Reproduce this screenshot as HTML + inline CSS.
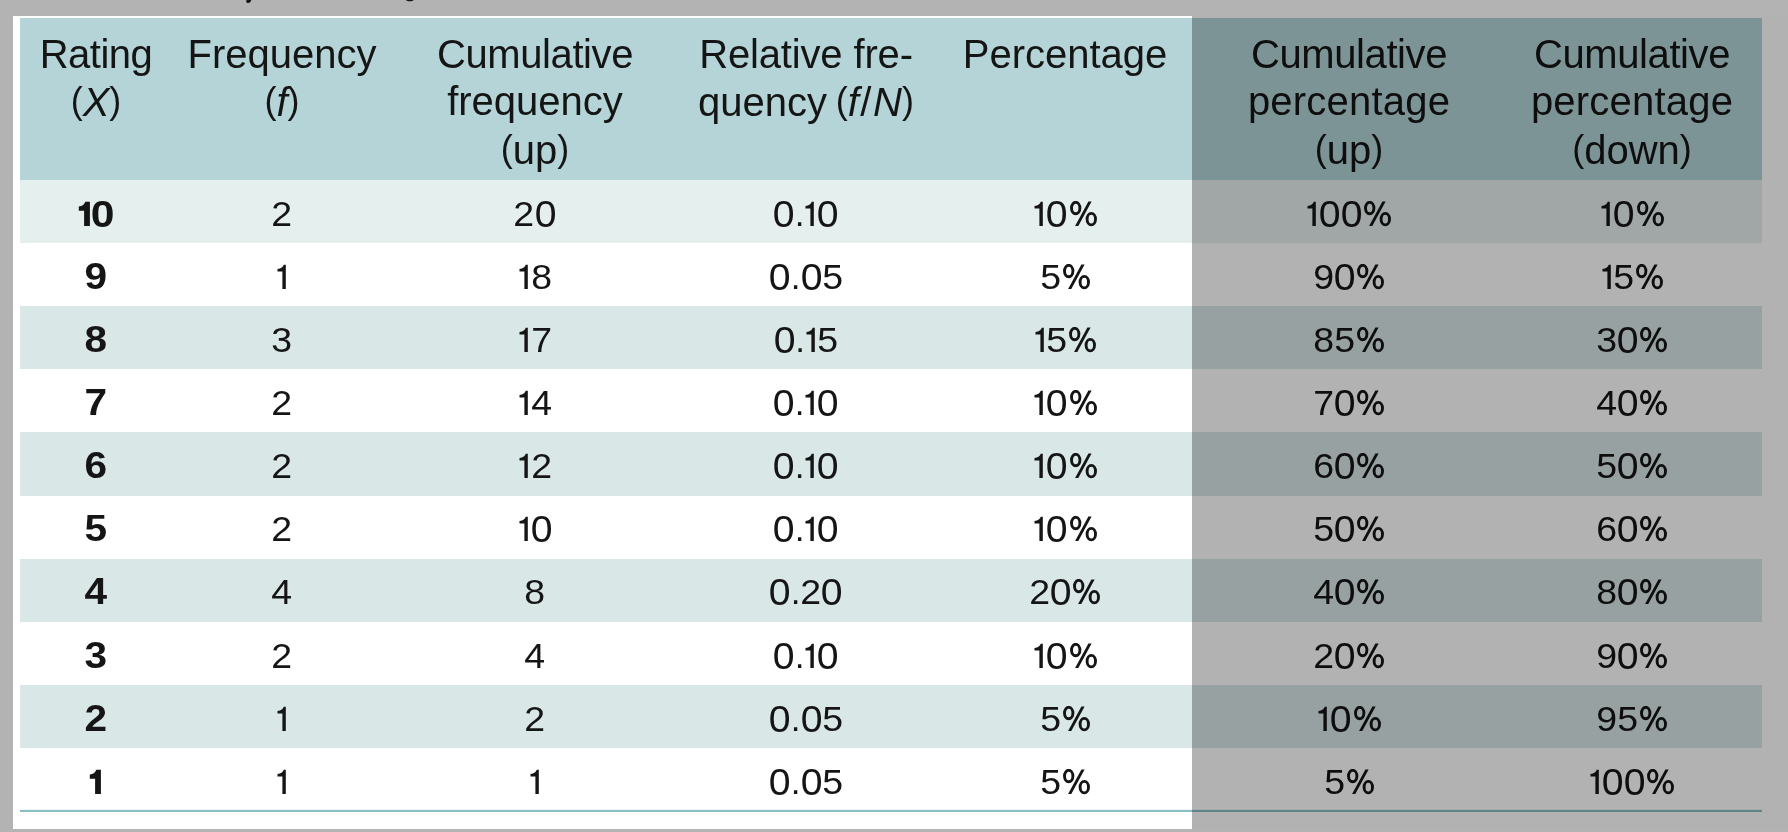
<!DOCTYPE html>
<html><head><meta charset="utf-8">
<style>
html,body{margin:0;padding:0;}
body{width:1788px;height:832px;overflow:hidden;background:#b3b3b3;position:relative;font-family:"Liberation Sans",sans-serif;color:#151515;}
.pg{position:absolute;left:13px;top:16px;width:1775px;height:813px;background:#fff;}
.r{position:absolute;left:20px;width:1742px;}
.t{position:absolute;width:300px;text-align:center;white-space:nowrap;will-change:transform;}
.hl{font-size:40.00px;line-height:40.00px;}
.p{font-size:36px;vertical-align:2.6px;}
.b{font-size:35.00px;line-height:35.00px;}
.ov{position:absolute;left:1192px;top:16px;width:596px;height:813px;background:rgba(0,0,0,0.3);}
.ds{position:absolute;background:#151515;}
.one{display:inline-block;position:relative;width:13.00px;height:25px;}
.one svg{position:absolute;left:0;top:0;}
.db{display:inline-block;transform:scale(1.16,1.03);margin:0 1.4px;}
.zb{display:inline-block;transform:translateY(0.6px) scale(1.22,1.03);margin:0 2px;}
.oneb{display:inline-block;position:relative;width:13.5px;height:25px;}
.oneb svg{position:absolute;left:0;top:0;}
.dg{display:inline-block;transform:scaleX(1.07);margin:0 0.55px;}
.z{display:inline-block;transform:translateY(0.6px) scale(1.12,1.03);margin:0 1.1px;}
.pc{display:inline-block;position:relative;width:29.00px;height:25px;}
.pc svg{position:absolute;left:1.80px;top:0;}
</style></head><body>
<div class="pg"></div>

<div class="r" style="top:18px;height:162.0px;background:#b4d4d7"></div>
<div class="r" style="top:180.00px;height:63.60px;background:#e5efee"></div>
<div class="r" style="top:243.10px;height:63.60px;background:#ffffff"></div>
<div class="r" style="top:306.20px;height:63.60px;background:#d9e7e7"></div>
<div class="r" style="top:369.30px;height:63.60px;background:#ffffff"></div>
<div class="r" style="top:432.40px;height:63.60px;background:#d9e7e7"></div>
<div class="r" style="top:495.50px;height:63.60px;background:#ffffff"></div>
<div class="r" style="top:558.60px;height:63.60px;background:#d9e7e7"></div>
<div class="r" style="top:621.70px;height:63.60px;background:#ffffff"></div>
<div class="r" style="top:684.80px;height:63.60px;background:#d9e7e7"></div>
<div class="r" style="top:747.90px;height:63.60px;background:#ffffff"></div>
<div class="r" style="top:809px;height:1px;background:#eef5f6"></div>
<div class="r" style="top:810px;height:2px;background:#8bbdc5"></div>
<div class="t hl" style="left:-54.30px;top:34.14px"><span style="letter-spacing:-0.5px">Rating</span></div>
<div class="t hl" style="left:-54.30px;top:81.14px"><span class=p>(</span><i>X</i><span class=p>)</span></div>
<div class="t hl" style="left:132.00px;top:34.14px">Frequency</div>
<div class="t hl" style="left:132.00px;top:81.14px"><span class=p>(</span><i>f</i><span class=p>)</span></div>
<div class="t hl" style="left:385.20px;top:34.14px"><span style="letter-spacing:-0.4px">Cumulative</span></div>
<div class="t hl" style="left:385.20px;top:81.14px">frequency</div>
<div class="t hl" style="left:385.20px;top:129.14px"><span class=p>(</span>up<span class=p>)</span></div>
<div class="t hl" style="left:656.00px;top:34.14px"><span style="letter-spacing:-0.15px">Relative fre-</span></div>
<div class="t hl" style="left:656.00px;top:81.14px">quency<span style="margin-left:-2.5px"> </span><span class=p>(</span><i>f</i><span style="margin:0 1.6px">/</span><i>N</i><span class=p>)</span></div>
<div class="t hl" style="left:915.20px;top:34.14px">Percentage</div>
<div class="t hl" style="left:1198.80px;top:34.14px"><span style="letter-spacing:-0.4px">Cumulative</span></div>
<div class="t hl" style="left:1198.80px;top:81.14px"><span style="letter-spacing:0.2px">percentage</span></div>
<div class="t hl" style="left:1198.80px;top:129.14px"><span class=p>(</span>up<span class=p>)</span></div>
<div class="t hl" style="left:1481.50px;top:34.14px"><span style="letter-spacing:-0.4px">Cumulative</span></div>
<div class="t hl" style="left:1481.50px;top:81.14px"><span style="letter-spacing:0.2px">percentage</span></div>
<div class="t hl" style="left:1481.50px;top:129.14px"><span class=p>(</span>down<span class=p>)</span></div>
<div class="t b" style="left:-54.30px;top:195.87px;font-weight:bold;"><span class="oneb"><svg width="14" height="26" viewBox="0 0 14 26"><path d="M11.9 0.8 L7.2 0.8 C6.5 3.2 4.5 5.2 0.8 5.4 L0.8 9.7 L6.1 9.7 L6.1 25 L11.9 25 Z" fill="#151515"/></svg></span><span class="zb">0</span></div>
<div class="t b" style="left:132.00px;top:195.87px;"><span class="dg">2</span></div>
<div class="t b" style="left:385.20px;top:195.87px;"><span class="dg">2</span><span class="z">0</span></div>
<div class="t b" style="left:656.00px;top:195.87px;"><span class="z">0</span>.<span class="one"><svg width="14" height="26" viewBox="0 0 14 26"><path d="M9.8 0.7 L7.7 0.7 C7.2 2.6 5.2 4.6 1.5 5.0 L1.5 7.6 L6.4 7.6 L6.4 25 L9.8 25 Z" fill="#151515"/></svg></span><span class="z">0</span></div>
<div class="t b" style="left:915.20px;top:195.87px;"><span class="one"><svg width="14" height="26" viewBox="0 0 14 26"><path d="M9.8 0.7 L7.7 0.7 C7.2 2.6 5.2 4.6 1.5 5.0 L1.5 7.6 L6.4 7.6 L6.4 25 L9.8 25 Z" fill="#151515"/></svg></span><span class="z">0</span><span class="pc"><svg width="30" height="26" viewBox="0 0 30 26"><g fill="none" stroke="#151515" stroke-width="2.9"><ellipse cx="5.7" cy="7.05" rx="4.2" ry="5.75"/><ellipse cx="21.3" cy="18.15" rx="4.2" ry="5.75"/></g><path d="M18.4 0.6 L21.6 0.6 L8.3 25 L5.1 25 Z" fill="#151515"/></svg></span></div>
<div class="t b" style="left:1198.80px;top:195.87px;"><span class="one"><svg width="14" height="26" viewBox="0 0 14 26"><path d="M9.8 0.7 L7.7 0.7 C7.2 2.6 5.2 4.6 1.5 5.0 L1.5 7.6 L6.4 7.6 L6.4 25 L9.8 25 Z" fill="#151515"/></svg></span><span class="z">0</span><span class="z">0</span><span class="pc"><svg width="30" height="26" viewBox="0 0 30 26"><g fill="none" stroke="#151515" stroke-width="2.9"><ellipse cx="5.7" cy="7.05" rx="4.2" ry="5.75"/><ellipse cx="21.3" cy="18.15" rx="4.2" ry="5.75"/></g><path d="M18.4 0.6 L21.6 0.6 L8.3 25 L5.1 25 Z" fill="#151515"/></svg></span></div>
<div class="t b" style="left:1481.50px;top:195.87px;"><span class="one"><svg width="14" height="26" viewBox="0 0 14 26"><path d="M9.8 0.7 L7.7 0.7 C7.2 2.6 5.2 4.6 1.5 5.0 L1.5 7.6 L6.4 7.6 L6.4 25 L9.8 25 Z" fill="#151515"/></svg></span><span class="z">0</span><span class="pc"><svg width="30" height="26" viewBox="0 0 30 26"><g fill="none" stroke="#151515" stroke-width="2.9"><ellipse cx="5.7" cy="7.05" rx="4.2" ry="5.75"/><ellipse cx="21.3" cy="18.15" rx="4.2" ry="5.75"/></g><path d="M18.4 0.6 L21.6 0.6 L8.3 25 L5.1 25 Z" fill="#151515"/></svg></span></div>
<div class="t b" style="left:-54.30px;top:258.97px;font-weight:bold;"><span class="db">9</span></div>
<div class="t b" style="left:132.00px;top:258.97px;"><span class="one"><svg width="14" height="26" viewBox="0 0 14 26"><path d="M9.8 0.7 L7.7 0.7 C7.2 2.6 5.2 4.6 1.5 5.0 L1.5 7.6 L6.4 7.6 L6.4 25 L9.8 25 Z" fill="#151515"/></svg></span></div>
<div class="t b" style="left:385.20px;top:258.97px;"><span class="one"><svg width="14" height="26" viewBox="0 0 14 26"><path d="M9.8 0.7 L7.7 0.7 C7.2 2.6 5.2 4.6 1.5 5.0 L1.5 7.6 L6.4 7.6 L6.4 25 L9.8 25 Z" fill="#151515"/></svg></span><span class="dg">8</span></div>
<div class="t b" style="left:656.00px;top:258.97px;"><span class="z">0</span>.<span class="z">0</span><span class="dg">5</span></div>
<div class="t b" style="left:915.20px;top:258.97px;"><span class="dg">5</span><span class="pc"><svg width="30" height="26" viewBox="0 0 30 26"><g fill="none" stroke="#151515" stroke-width="2.9"><ellipse cx="5.7" cy="7.05" rx="4.2" ry="5.75"/><ellipse cx="21.3" cy="18.15" rx="4.2" ry="5.75"/></g><path d="M18.4 0.6 L21.6 0.6 L8.3 25 L5.1 25 Z" fill="#151515"/></svg></span></div>
<div class="t b" style="left:1198.80px;top:258.97px;"><span class="dg">9</span><span class="z">0</span><span class="pc"><svg width="30" height="26" viewBox="0 0 30 26"><g fill="none" stroke="#151515" stroke-width="2.9"><ellipse cx="5.7" cy="7.05" rx="4.2" ry="5.75"/><ellipse cx="21.3" cy="18.15" rx="4.2" ry="5.75"/></g><path d="M18.4 0.6 L21.6 0.6 L8.3 25 L5.1 25 Z" fill="#151515"/></svg></span></div>
<div class="t b" style="left:1481.50px;top:258.97px;"><span class="one"><svg width="14" height="26" viewBox="0 0 14 26"><path d="M9.8 0.7 L7.7 0.7 C7.2 2.6 5.2 4.6 1.5 5.0 L1.5 7.6 L6.4 7.6 L6.4 25 L9.8 25 Z" fill="#151515"/></svg></span><span class="dg">5</span><span class="pc"><svg width="30" height="26" viewBox="0 0 30 26"><g fill="none" stroke="#151515" stroke-width="2.9"><ellipse cx="5.7" cy="7.05" rx="4.2" ry="5.75"/><ellipse cx="21.3" cy="18.15" rx="4.2" ry="5.75"/></g><path d="M18.4 0.6 L21.6 0.6 L8.3 25 L5.1 25 Z" fill="#151515"/></svg></span></div>
<div class="t b" style="left:-54.30px;top:322.07px;font-weight:bold;"><span class="db">8</span></div>
<div class="t b" style="left:132.00px;top:322.07px;"><span class="dg">3</span></div>
<div class="t b" style="left:385.20px;top:322.07px;"><span class="one"><svg width="14" height="26" viewBox="0 0 14 26"><path d="M9.8 0.7 L7.7 0.7 C7.2 2.6 5.2 4.6 1.5 5.0 L1.5 7.6 L6.4 7.6 L6.4 25 L9.8 25 Z" fill="#151515"/></svg></span><span class="dg">7</span></div>
<div class="t b" style="left:656.00px;top:322.07px;"><span class="z">0</span>.<span class="one"><svg width="14" height="26" viewBox="0 0 14 26"><path d="M9.8 0.7 L7.7 0.7 C7.2 2.6 5.2 4.6 1.5 5.0 L1.5 7.6 L6.4 7.6 L6.4 25 L9.8 25 Z" fill="#151515"/></svg></span><span class="dg">5</span></div>
<div class="t b" style="left:915.20px;top:322.07px;"><span class="one"><svg width="14" height="26" viewBox="0 0 14 26"><path d="M9.8 0.7 L7.7 0.7 C7.2 2.6 5.2 4.6 1.5 5.0 L1.5 7.6 L6.4 7.6 L6.4 25 L9.8 25 Z" fill="#151515"/></svg></span><span class="dg">5</span><span class="pc"><svg width="30" height="26" viewBox="0 0 30 26"><g fill="none" stroke="#151515" stroke-width="2.9"><ellipse cx="5.7" cy="7.05" rx="4.2" ry="5.75"/><ellipse cx="21.3" cy="18.15" rx="4.2" ry="5.75"/></g><path d="M18.4 0.6 L21.6 0.6 L8.3 25 L5.1 25 Z" fill="#151515"/></svg></span></div>
<div class="t b" style="left:1198.80px;top:322.07px;"><span class="dg">8</span><span class="dg">5</span><span class="pc"><svg width="30" height="26" viewBox="0 0 30 26"><g fill="none" stroke="#151515" stroke-width="2.9"><ellipse cx="5.7" cy="7.05" rx="4.2" ry="5.75"/><ellipse cx="21.3" cy="18.15" rx="4.2" ry="5.75"/></g><path d="M18.4 0.6 L21.6 0.6 L8.3 25 L5.1 25 Z" fill="#151515"/></svg></span></div>
<div class="t b" style="left:1481.50px;top:322.07px;"><span class="dg">3</span><span class="z">0</span><span class="pc"><svg width="30" height="26" viewBox="0 0 30 26"><g fill="none" stroke="#151515" stroke-width="2.9"><ellipse cx="5.7" cy="7.05" rx="4.2" ry="5.75"/><ellipse cx="21.3" cy="18.15" rx="4.2" ry="5.75"/></g><path d="M18.4 0.6 L21.6 0.6 L8.3 25 L5.1 25 Z" fill="#151515"/></svg></span></div>
<div class="t b" style="left:-54.30px;top:385.17px;font-weight:bold;"><span class="db">7</span></div>
<div class="t b" style="left:132.00px;top:385.17px;"><span class="dg">2</span></div>
<div class="t b" style="left:385.20px;top:385.17px;"><span class="one"><svg width="14" height="26" viewBox="0 0 14 26"><path d="M9.8 0.7 L7.7 0.7 C7.2 2.6 5.2 4.6 1.5 5.0 L1.5 7.6 L6.4 7.6 L6.4 25 L9.8 25 Z" fill="#151515"/></svg></span><span class="dg">4</span></div>
<div class="t b" style="left:656.00px;top:385.17px;"><span class="z">0</span>.<span class="one"><svg width="14" height="26" viewBox="0 0 14 26"><path d="M9.8 0.7 L7.7 0.7 C7.2 2.6 5.2 4.6 1.5 5.0 L1.5 7.6 L6.4 7.6 L6.4 25 L9.8 25 Z" fill="#151515"/></svg></span><span class="z">0</span></div>
<div class="t b" style="left:915.20px;top:385.17px;"><span class="one"><svg width="14" height="26" viewBox="0 0 14 26"><path d="M9.8 0.7 L7.7 0.7 C7.2 2.6 5.2 4.6 1.5 5.0 L1.5 7.6 L6.4 7.6 L6.4 25 L9.8 25 Z" fill="#151515"/></svg></span><span class="z">0</span><span class="pc"><svg width="30" height="26" viewBox="0 0 30 26"><g fill="none" stroke="#151515" stroke-width="2.9"><ellipse cx="5.7" cy="7.05" rx="4.2" ry="5.75"/><ellipse cx="21.3" cy="18.15" rx="4.2" ry="5.75"/></g><path d="M18.4 0.6 L21.6 0.6 L8.3 25 L5.1 25 Z" fill="#151515"/></svg></span></div>
<div class="t b" style="left:1198.80px;top:385.17px;"><span class="dg">7</span><span class="z">0</span><span class="pc"><svg width="30" height="26" viewBox="0 0 30 26"><g fill="none" stroke="#151515" stroke-width="2.9"><ellipse cx="5.7" cy="7.05" rx="4.2" ry="5.75"/><ellipse cx="21.3" cy="18.15" rx="4.2" ry="5.75"/></g><path d="M18.4 0.6 L21.6 0.6 L8.3 25 L5.1 25 Z" fill="#151515"/></svg></span></div>
<div class="t b" style="left:1481.50px;top:385.17px;"><span class="dg">4</span><span class="z">0</span><span class="pc"><svg width="30" height="26" viewBox="0 0 30 26"><g fill="none" stroke="#151515" stroke-width="2.9"><ellipse cx="5.7" cy="7.05" rx="4.2" ry="5.75"/><ellipse cx="21.3" cy="18.15" rx="4.2" ry="5.75"/></g><path d="M18.4 0.6 L21.6 0.6 L8.3 25 L5.1 25 Z" fill="#151515"/></svg></span></div>
<div class="t b" style="left:-54.30px;top:448.27px;font-weight:bold;"><span class="db">6</span></div>
<div class="t b" style="left:132.00px;top:448.27px;"><span class="dg">2</span></div>
<div class="t b" style="left:385.20px;top:448.27px;"><span class="one"><svg width="14" height="26" viewBox="0 0 14 26"><path d="M9.8 0.7 L7.7 0.7 C7.2 2.6 5.2 4.6 1.5 5.0 L1.5 7.6 L6.4 7.6 L6.4 25 L9.8 25 Z" fill="#151515"/></svg></span><span class="dg">2</span></div>
<div class="t b" style="left:656.00px;top:448.27px;"><span class="z">0</span>.<span class="one"><svg width="14" height="26" viewBox="0 0 14 26"><path d="M9.8 0.7 L7.7 0.7 C7.2 2.6 5.2 4.6 1.5 5.0 L1.5 7.6 L6.4 7.6 L6.4 25 L9.8 25 Z" fill="#151515"/></svg></span><span class="z">0</span></div>
<div class="t b" style="left:915.20px;top:448.27px;"><span class="one"><svg width="14" height="26" viewBox="0 0 14 26"><path d="M9.8 0.7 L7.7 0.7 C7.2 2.6 5.2 4.6 1.5 5.0 L1.5 7.6 L6.4 7.6 L6.4 25 L9.8 25 Z" fill="#151515"/></svg></span><span class="z">0</span><span class="pc"><svg width="30" height="26" viewBox="0 0 30 26"><g fill="none" stroke="#151515" stroke-width="2.9"><ellipse cx="5.7" cy="7.05" rx="4.2" ry="5.75"/><ellipse cx="21.3" cy="18.15" rx="4.2" ry="5.75"/></g><path d="M18.4 0.6 L21.6 0.6 L8.3 25 L5.1 25 Z" fill="#151515"/></svg></span></div>
<div class="t b" style="left:1198.80px;top:448.27px;"><span class="dg">6</span><span class="z">0</span><span class="pc"><svg width="30" height="26" viewBox="0 0 30 26"><g fill="none" stroke="#151515" stroke-width="2.9"><ellipse cx="5.7" cy="7.05" rx="4.2" ry="5.75"/><ellipse cx="21.3" cy="18.15" rx="4.2" ry="5.75"/></g><path d="M18.4 0.6 L21.6 0.6 L8.3 25 L5.1 25 Z" fill="#151515"/></svg></span></div>
<div class="t b" style="left:1481.50px;top:448.27px;"><span class="dg">5</span><span class="z">0</span><span class="pc"><svg width="30" height="26" viewBox="0 0 30 26"><g fill="none" stroke="#151515" stroke-width="2.9"><ellipse cx="5.7" cy="7.05" rx="4.2" ry="5.75"/><ellipse cx="21.3" cy="18.15" rx="4.2" ry="5.75"/></g><path d="M18.4 0.6 L21.6 0.6 L8.3 25 L5.1 25 Z" fill="#151515"/></svg></span></div>
<div class="t b" style="left:-54.30px;top:511.37px;font-weight:bold;"><span class="db">5</span></div>
<div class="t b" style="left:132.00px;top:511.37px;"><span class="dg">2</span></div>
<div class="t b" style="left:385.20px;top:511.37px;"><span class="one"><svg width="14" height="26" viewBox="0 0 14 26"><path d="M9.8 0.7 L7.7 0.7 C7.2 2.6 5.2 4.6 1.5 5.0 L1.5 7.6 L6.4 7.6 L6.4 25 L9.8 25 Z" fill="#151515"/></svg></span><span class="z">0</span></div>
<div class="t b" style="left:656.00px;top:511.37px;"><span class="z">0</span>.<span class="one"><svg width="14" height="26" viewBox="0 0 14 26"><path d="M9.8 0.7 L7.7 0.7 C7.2 2.6 5.2 4.6 1.5 5.0 L1.5 7.6 L6.4 7.6 L6.4 25 L9.8 25 Z" fill="#151515"/></svg></span><span class="z">0</span></div>
<div class="t b" style="left:915.20px;top:511.37px;"><span class="one"><svg width="14" height="26" viewBox="0 0 14 26"><path d="M9.8 0.7 L7.7 0.7 C7.2 2.6 5.2 4.6 1.5 5.0 L1.5 7.6 L6.4 7.6 L6.4 25 L9.8 25 Z" fill="#151515"/></svg></span><span class="z">0</span><span class="pc"><svg width="30" height="26" viewBox="0 0 30 26"><g fill="none" stroke="#151515" stroke-width="2.9"><ellipse cx="5.7" cy="7.05" rx="4.2" ry="5.75"/><ellipse cx="21.3" cy="18.15" rx="4.2" ry="5.75"/></g><path d="M18.4 0.6 L21.6 0.6 L8.3 25 L5.1 25 Z" fill="#151515"/></svg></span></div>
<div class="t b" style="left:1198.80px;top:511.37px;"><span class="dg">5</span><span class="z">0</span><span class="pc"><svg width="30" height="26" viewBox="0 0 30 26"><g fill="none" stroke="#151515" stroke-width="2.9"><ellipse cx="5.7" cy="7.05" rx="4.2" ry="5.75"/><ellipse cx="21.3" cy="18.15" rx="4.2" ry="5.75"/></g><path d="M18.4 0.6 L21.6 0.6 L8.3 25 L5.1 25 Z" fill="#151515"/></svg></span></div>
<div class="t b" style="left:1481.50px;top:511.37px;"><span class="dg">6</span><span class="z">0</span><span class="pc"><svg width="30" height="26" viewBox="0 0 30 26"><g fill="none" stroke="#151515" stroke-width="2.9"><ellipse cx="5.7" cy="7.05" rx="4.2" ry="5.75"/><ellipse cx="21.3" cy="18.15" rx="4.2" ry="5.75"/></g><path d="M18.4 0.6 L21.6 0.6 L8.3 25 L5.1 25 Z" fill="#151515"/></svg></span></div>
<div class="t b" style="left:-54.30px;top:574.47px;font-weight:bold;"><span class="db">4</span></div>
<div class="t b" style="left:132.00px;top:574.47px;"><span class="dg">4</span></div>
<div class="t b" style="left:385.20px;top:574.47px;"><span class="dg">8</span></div>
<div class="t b" style="left:656.00px;top:574.47px;"><span class="z">0</span>.<span class="dg">2</span><span class="z">0</span></div>
<div class="t b" style="left:915.20px;top:574.47px;"><span class="dg">2</span><span class="z">0</span><span class="pc"><svg width="30" height="26" viewBox="0 0 30 26"><g fill="none" stroke="#151515" stroke-width="2.9"><ellipse cx="5.7" cy="7.05" rx="4.2" ry="5.75"/><ellipse cx="21.3" cy="18.15" rx="4.2" ry="5.75"/></g><path d="M18.4 0.6 L21.6 0.6 L8.3 25 L5.1 25 Z" fill="#151515"/></svg></span></div>
<div class="t b" style="left:1198.80px;top:574.47px;"><span class="dg">4</span><span class="z">0</span><span class="pc"><svg width="30" height="26" viewBox="0 0 30 26"><g fill="none" stroke="#151515" stroke-width="2.9"><ellipse cx="5.7" cy="7.05" rx="4.2" ry="5.75"/><ellipse cx="21.3" cy="18.15" rx="4.2" ry="5.75"/></g><path d="M18.4 0.6 L21.6 0.6 L8.3 25 L5.1 25 Z" fill="#151515"/></svg></span></div>
<div class="t b" style="left:1481.50px;top:574.47px;"><span class="dg">8</span><span class="z">0</span><span class="pc"><svg width="30" height="26" viewBox="0 0 30 26"><g fill="none" stroke="#151515" stroke-width="2.9"><ellipse cx="5.7" cy="7.05" rx="4.2" ry="5.75"/><ellipse cx="21.3" cy="18.15" rx="4.2" ry="5.75"/></g><path d="M18.4 0.6 L21.6 0.6 L8.3 25 L5.1 25 Z" fill="#151515"/></svg></span></div>
<div class="t b" style="left:-54.30px;top:637.57px;font-weight:bold;"><span class="db">3</span></div>
<div class="t b" style="left:132.00px;top:637.57px;"><span class="dg">2</span></div>
<div class="t b" style="left:385.20px;top:637.57px;"><span class="dg">4</span></div>
<div class="t b" style="left:656.00px;top:637.57px;"><span class="z">0</span>.<span class="one"><svg width="14" height="26" viewBox="0 0 14 26"><path d="M9.8 0.7 L7.7 0.7 C7.2 2.6 5.2 4.6 1.5 5.0 L1.5 7.6 L6.4 7.6 L6.4 25 L9.8 25 Z" fill="#151515"/></svg></span><span class="z">0</span></div>
<div class="t b" style="left:915.20px;top:637.57px;"><span class="one"><svg width="14" height="26" viewBox="0 0 14 26"><path d="M9.8 0.7 L7.7 0.7 C7.2 2.6 5.2 4.6 1.5 5.0 L1.5 7.6 L6.4 7.6 L6.4 25 L9.8 25 Z" fill="#151515"/></svg></span><span class="z">0</span><span class="pc"><svg width="30" height="26" viewBox="0 0 30 26"><g fill="none" stroke="#151515" stroke-width="2.9"><ellipse cx="5.7" cy="7.05" rx="4.2" ry="5.75"/><ellipse cx="21.3" cy="18.15" rx="4.2" ry="5.75"/></g><path d="M18.4 0.6 L21.6 0.6 L8.3 25 L5.1 25 Z" fill="#151515"/></svg></span></div>
<div class="t b" style="left:1198.80px;top:637.57px;"><span class="dg">2</span><span class="z">0</span><span class="pc"><svg width="30" height="26" viewBox="0 0 30 26"><g fill="none" stroke="#151515" stroke-width="2.9"><ellipse cx="5.7" cy="7.05" rx="4.2" ry="5.75"/><ellipse cx="21.3" cy="18.15" rx="4.2" ry="5.75"/></g><path d="M18.4 0.6 L21.6 0.6 L8.3 25 L5.1 25 Z" fill="#151515"/></svg></span></div>
<div class="t b" style="left:1481.50px;top:637.57px;"><span class="dg">9</span><span class="z">0</span><span class="pc"><svg width="30" height="26" viewBox="0 0 30 26"><g fill="none" stroke="#151515" stroke-width="2.9"><ellipse cx="5.7" cy="7.05" rx="4.2" ry="5.75"/><ellipse cx="21.3" cy="18.15" rx="4.2" ry="5.75"/></g><path d="M18.4 0.6 L21.6 0.6 L8.3 25 L5.1 25 Z" fill="#151515"/></svg></span></div>
<div class="t b" style="left:-54.30px;top:700.67px;font-weight:bold;"><span class="db">2</span></div>
<div class="t b" style="left:132.00px;top:700.67px;"><span class="one"><svg width="14" height="26" viewBox="0 0 14 26"><path d="M9.8 0.7 L7.7 0.7 C7.2 2.6 5.2 4.6 1.5 5.0 L1.5 7.6 L6.4 7.6 L6.4 25 L9.8 25 Z" fill="#151515"/></svg></span></div>
<div class="t b" style="left:385.20px;top:700.67px;"><span class="dg">2</span></div>
<div class="t b" style="left:656.00px;top:700.67px;"><span class="z">0</span>.<span class="z">0</span><span class="dg">5</span></div>
<div class="t b" style="left:915.20px;top:700.67px;"><span class="dg">5</span><span class="pc"><svg width="30" height="26" viewBox="0 0 30 26"><g fill="none" stroke="#151515" stroke-width="2.9"><ellipse cx="5.7" cy="7.05" rx="4.2" ry="5.75"/><ellipse cx="21.3" cy="18.15" rx="4.2" ry="5.75"/></g><path d="M18.4 0.6 L21.6 0.6 L8.3 25 L5.1 25 Z" fill="#151515"/></svg></span></div>
<div class="t b" style="left:1198.80px;top:700.67px;"><span class="one"><svg width="14" height="26" viewBox="0 0 14 26"><path d="M9.8 0.7 L7.7 0.7 C7.2 2.6 5.2 4.6 1.5 5.0 L1.5 7.6 L6.4 7.6 L6.4 25 L9.8 25 Z" fill="#151515"/></svg></span><span class="z">0</span><span class="pc"><svg width="30" height="26" viewBox="0 0 30 26"><g fill="none" stroke="#151515" stroke-width="2.9"><ellipse cx="5.7" cy="7.05" rx="4.2" ry="5.75"/><ellipse cx="21.3" cy="18.15" rx="4.2" ry="5.75"/></g><path d="M18.4 0.6 L21.6 0.6 L8.3 25 L5.1 25 Z" fill="#151515"/></svg></span></div>
<div class="t b" style="left:1481.50px;top:700.67px;"><span class="dg">9</span><span class="dg">5</span><span class="pc"><svg width="30" height="26" viewBox="0 0 30 26"><g fill="none" stroke="#151515" stroke-width="2.9"><ellipse cx="5.7" cy="7.05" rx="4.2" ry="5.75"/><ellipse cx="21.3" cy="18.15" rx="4.2" ry="5.75"/></g><path d="M18.4 0.6 L21.6 0.6 L8.3 25 L5.1 25 Z" fill="#151515"/></svg></span></div>
<div class="t b" style="left:-54.30px;top:763.77px;font-weight:bold;"><span class="oneb"><svg width="14" height="26" viewBox="0 0 14 26"><path d="M11.9 0.8 L7.2 0.8 C6.5 3.2 4.5 5.2 0.8 5.4 L0.8 9.7 L6.1 9.7 L6.1 25 L11.9 25 Z" fill="#151515"/></svg></span></div>
<div class="t b" style="left:132.00px;top:763.77px;"><span class="one"><svg width="14" height="26" viewBox="0 0 14 26"><path d="M9.8 0.7 L7.7 0.7 C7.2 2.6 5.2 4.6 1.5 5.0 L1.5 7.6 L6.4 7.6 L6.4 25 L9.8 25 Z" fill="#151515"/></svg></span></div>
<div class="t b" style="left:385.20px;top:763.77px;"><span class="one"><svg width="14" height="26" viewBox="0 0 14 26"><path d="M9.8 0.7 L7.7 0.7 C7.2 2.6 5.2 4.6 1.5 5.0 L1.5 7.6 L6.4 7.6 L6.4 25 L9.8 25 Z" fill="#151515"/></svg></span></div>
<div class="t b" style="left:656.00px;top:763.77px;"><span class="z">0</span>.<span class="z">0</span><span class="dg">5</span></div>
<div class="t b" style="left:915.20px;top:763.77px;"><span class="dg">5</span><span class="pc"><svg width="30" height="26" viewBox="0 0 30 26"><g fill="none" stroke="#151515" stroke-width="2.9"><ellipse cx="5.7" cy="7.05" rx="4.2" ry="5.75"/><ellipse cx="21.3" cy="18.15" rx="4.2" ry="5.75"/></g><path d="M18.4 0.6 L21.6 0.6 L8.3 25 L5.1 25 Z" fill="#151515"/></svg></span></div>
<div class="t b" style="left:1198.80px;top:763.77px;"><span class="dg">5</span><span class="pc"><svg width="30" height="26" viewBox="0 0 30 26"><g fill="none" stroke="#151515" stroke-width="2.9"><ellipse cx="5.7" cy="7.05" rx="4.2" ry="5.75"/><ellipse cx="21.3" cy="18.15" rx="4.2" ry="5.75"/></g><path d="M18.4 0.6 L21.6 0.6 L8.3 25 L5.1 25 Z" fill="#151515"/></svg></span></div>
<div class="t b" style="left:1481.50px;top:763.77px;"><span class="one"><svg width="14" height="26" viewBox="0 0 14 26"><path d="M9.8 0.7 L7.7 0.7 C7.2 2.6 5.2 4.6 1.5 5.0 L1.5 7.6 L6.4 7.6 L6.4 25 L9.8 25 Z" fill="#151515"/></svg></span><span class="z">0</span><span class="z">0</span><span class="pc"><svg width="30" height="26" viewBox="0 0 30 26"><g fill="none" stroke="#151515" stroke-width="2.9"><ellipse cx="5.7" cy="7.05" rx="4.2" ry="5.75"/><ellipse cx="21.3" cy="18.15" rx="4.2" ry="5.75"/></g><path d="M18.4 0.6 L21.6 0.6 L8.3 25 L5.1 25 Z" fill="#151515"/></svg></span></div>
<svg style="position:absolute;left:0;top:0" width="500" height="6"><path d="M246.3 0 L251.3 0 C250.9 1.6 250.1 2.8 248.2 3.1 C247.1 3.2 246.6 2.7 246.4 2 Z" fill="#151515"/><path d="M405.8 0 L413.8 0 C412.9 0.9 411.5 1.3 409.8 1.3 C408.1 1.3 406.7 0.9 405.8 0 Z" fill="#151515"/></svg>
<div class="ov"></div>
</body></html>
